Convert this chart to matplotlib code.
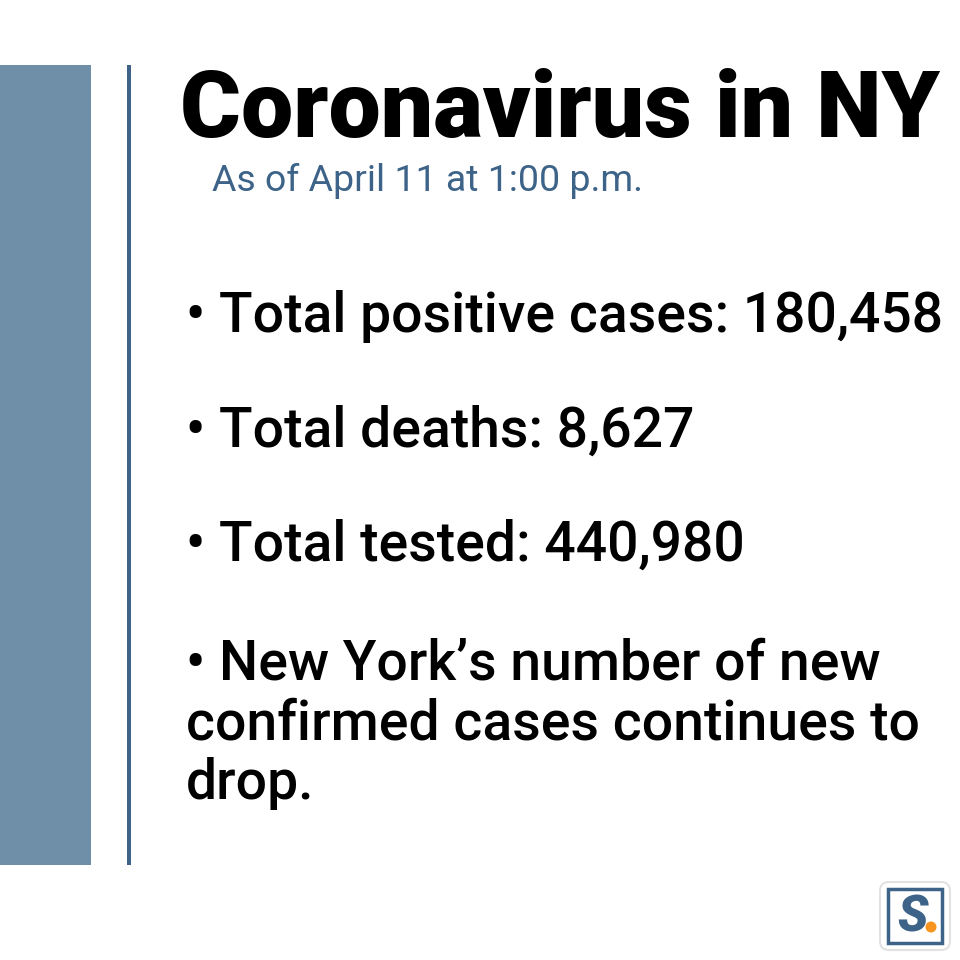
import matplotlib
matplotlib.use("Agg")
import matplotlib.pyplot as plt
from matplotlib.patches import Rectangle, FancyBboxPatch, Circle

title = "Coronavirus in NY"
subtitle = "As of April 11 at 1:00 p.m."
bullet_lines = [
    "\u2022 Total positive cases: 180,458",
    "\u2022 Total deaths: 8,627",
    "\u2022 Total tested: 440,980",
    "\u2022 New York\u2019s number of new",
    "confirmed cases continues to",
    "drop.",
]
baselines = [332, 447, 561, 680, 740, 799]

W = H = 960
bar_col = "#6f8ea8"
line_col = "#3d6488"

fig = plt.figure(figsize=(9.6, 9.6), dpi=100)
ax = fig.add_axes([0, 0, 1, 1])
ax.set_xlim(0, W)
ax.set_ylim(H, 0)
ax.axis("off")
renderer = fig.canvas.get_renderer()


def fit(t, width):
    # shrink/grow font so the text spans the same width as in the picture
    for _ in range(3):
        w = t.get_window_extent(renderer).width
        t.set_fontsize(t.get_fontsize() * width / w)
    return t.get_fontsize()


# left block and thin rule
ax.add_patch(Rectangle((0, 65), 91, 800, color=bar_col, lw=0))
ax.add_patch(Rectangle((127, 65), 4, 800, color=line_col, lw=0))

fam = ["Roboto", "DejaVu Sans"]
t = ax.text(180, 137, title, fontsize=70, fontweight="black", family=fam,
            va="baseline", ha="left", color="black")
fit(t, 760)
t = ax.text(212, 191, subtitle, fontsize=28, family=fam,
            va="baseline", ha="left", color=line_col)
fit(t, 430)

texts = []
for txt, y in zip(bullet_lines, baselines):
    texts.append(ax.text(186, y, txt, fontsize=47, family=fam, fontweight="medium",
                         va="baseline", ha="left", color="black"))
size = fit(texts[0], 756)
for t in texts[1:]:
    t.set_fontsize(size)

# logo
ax.add_patch(FancyBboxPatch((880, 882), 70, 68, boxstyle="round,pad=0,rounding_size=9",
                            fc="white", ec="#e2e2e2", lw=1.5))
ax.add_patch(Rectangle((888, 889), 54, 54, fc="white", ec=line_col, lw=2.5))
ax.text(913, 932, "S", fontsize=36, fontweight="black", style="italic",
        family=fam, color=line_col, ha="center", va="baseline")
ax.add_patch(Circle((931, 927), 5.5, color="#f7941d", lw=0))

fig.savefig("out.png", dpi=100, facecolor="white")
